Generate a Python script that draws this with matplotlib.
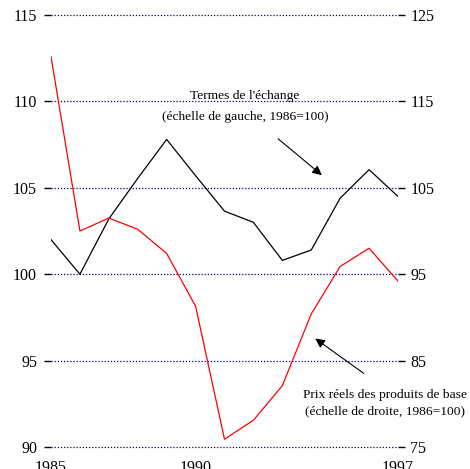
import matplotlib
matplotlib.use("Agg")
import matplotlib.pyplot as plt

plt.rcParams['font.family'] = ['Liberation Serif', 'DejaVu Serif']

years = [1985, 1986, 1987, 1988, 1989, 1990, 1991, 1992, 1993, 1994, 1995, 1996, 1997]
# termes de l'echange (left scale)
terms = [102.0, 100.0, 103.2, 105.55, 107.8, 105.7, 103.65, 103.0, 100.8, 101.4, 104.4, 106.05, 104.5]
# prix reels des produits de base (right scale)
prices = [120.2, 100.0, 101.5, 100.2, 97.4, 91.3, 75.9, 78.1, 82.1, 90.4, 95.9, 98.0, 94.2]

left_ticks = [90, 95, 100, 105, 110, 115]
right_ticks = [75, 85, 95, 105, 115, 125]
x_ticks = [1985, 1990, 1997]

fig = plt.figure(figsize=(4.7, 4.69), dpi=100)
ax = fig.add_axes([0.1085, 0.0469, 0.7383, 0.9211])
ax2 = ax.twinx()

ax.plot(years, terms, color='black', linewidth=0.9, zorder=3)
ax2.plot(years, prices, color='red', linewidth=0.9, zorder=3)

ax.set_xlim(1985, 1997)
ax.set_ylim(90, 115)
ax2.set_ylim(75, 125)
ax.set_yticks(left_ticks)
ax2.set_yticks(right_ticks)
ax.set_xticks(x_ticks)

ax.grid(axis='y', linestyle=(0, (1, 1.5)), color='navy', linewidth=0.9)
for gl in ax.get_ygridlines():
    gl.set_clip_on(False)
for a in (ax, ax2):
    for s in a.spines.values():
        s.set_visible(False)
ax.tick_params(axis='y', length=5, width=1, pad=5, labelsize=11.5)
ax2.tick_params(axis='y', length=5, width=1, pad=4, labelsize=11.5)
ax.tick_params(axis='x', length=0, pad=9, labelsize=11.5)

# annotations
ax.text(1991.71, 110.14, "Termes de l'échange", ha='center', va='baseline', fontsize=9.7)
ax.text(1991.71, 108.92, "(échelle de gauche, 1986=100)", ha='center', va='baseline', fontsize=9.7)
ax.annotate('', xy=(1994.44, 105.63), xytext=(1992.78, 107.94),
            arrowprops=dict(arrowstyle='-|>', color='black', linewidth=0.8, mutation_scale=14))

ax.text(1996.55, 92.84, "Prix réels des produits de base", ha='center', va='baseline', fontsize=9.7)
ax.text(1996.55, 91.91, "(échelle de droite, 1986=100)", ha='center', va='baseline', fontsize=9.7)
ax.annotate('', xy=(1994.06, 96.37), xytext=(1995.89, 94.17),
            arrowprops=dict(arrowstyle='-|>', color='black', linewidth=0.8, mutation_scale=14))

fig.savefig('out.png', dpi=100)
